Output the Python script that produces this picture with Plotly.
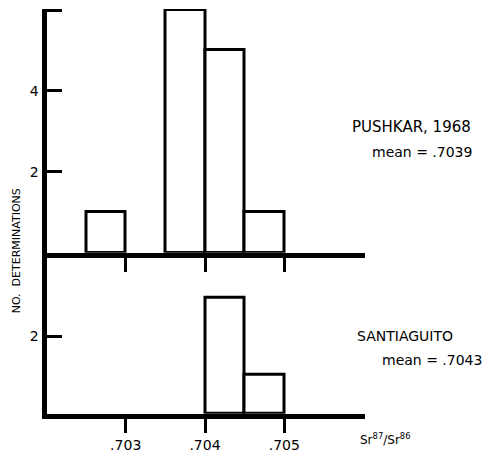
import plotly.graph_objects as go

W, H = 487, 453

# Data (Sr87/Sr86 histogram bins, bin width 0.0005)
bin_width = 0.0005
pushkar_bin_left = [0.7025, 0.7035, 0.7040, 0.7045]
pushkar_counts = [1, 6, 5, 1]
santi_bin_left = [0.7040, 0.7045]
santi_counts = [3, 1]
x_tick_vals = [0.703, 0.704, 0.705]
x_tick_text = [".703", ".704", ".705"]
top_y_ticks = [2, 4, 5.98]
top_y_text = ["2", "4", ""]
bot_y_ticks = [2]
bot_y_text = ["2"]

def px(x):
    return x / W

def py(y):
    return 1 - y / H

FONT = "DejaVu Sans"

fig = go.Figure()

bar_style = dict(marker=dict(color="white", line=dict(color="black", width=3)),
                 width=bin_width, showlegend=False, hoverinfo="skip")

fig.add_trace(go.Bar(x=[b + bin_width / 2 for b in pushkar_bin_left], y=pushkar_counts,
                     xaxis="x2", yaxis="y2", **bar_style))
fig.add_trace(go.Bar(x=[b + bin_width / 2 for b in santi_bin_left], y=santi_counts,
                     xaxis="x", yaxis="y", **bar_style))

# pixel layout
LW = 5
x_left_px, x_right_px = 46.5, 365
ppu_x = 79.3  # pixels per 0.001
x_703 = 125.7
x0 = 0.703 - (x_703 - x_left_px) / ppu_x * 0.001
x1 = 0.703 + (x_right_px - x_703) / ppu_x * 0.001

top_base, top_top = 254.5, 9
bot_base, bot_top = 416.5, 259.5

common_x = dict(range=[x0, x1], domain=[px(x_left_px), px(x_right_px)],
                showgrid=False, zeroline=False, showline=True, linecolor="black",
                linewidth=LW, ticks="outside", ticklen=14, tickwidth=3, tickcolor="black",
                tickvals=x_tick_vals, fixedrange=True)

common_y = dict(showgrid=False, zeroline=False, showline=True, linecolor="black",
                linewidth=LW, ticks="inside", ticklen=15, tickwidth=3, tickcolor="black",
                tickfont=dict(family=FONT, size=14, color="black"), fixedrange=True)

fig.update_layout(
    width=W, height=H,
    margin=dict(l=0, r=0, t=0, b=0),
    paper_bgcolor="white", plot_bgcolor="white",
    bargap=0,
    xaxis=dict(**common_x, anchor="y", ticktext=x_tick_text,
               tickfont=dict(family=FONT, size=14, color="black")),
    xaxis2=dict(**common_x, anchor="y2", matches="x", showticklabels=False),
    yaxis=dict(**common_y, domain=[py(bot_base), py(bot_top)],
               range=[0, (bot_base - bot_top) / 39.0],
               tickvals=bot_y_ticks, ticktext=bot_y_text, anchor="x"),
    yaxis2=dict(**common_y, domain=[py(top_base), py(top_top)],
                range=[0, 6.02],
                tickvals=top_y_ticks, ticktext=top_y_text, anchor="x2"),
)

ann = [
    dict(text="NO.  DETERMINATIONS", x=px(16), y=py(253), textangle=-90,
         font=dict(size=11, family=FONT)),
    dict(text="PUSHKAR, 1968", x=px(473), y=py(128), xanchor="right",
         font=dict(size=15, family=FONT)),
    dict(text="mean = .7039", x=px(474), y=py(153), xanchor="right",
         font=dict(size=14, family=FONT)),
    dict(text="SANTIAGUITO", x=px(355), y=py(338), xanchor="left",
         font=dict(size=14, family=FONT)),
    dict(text="mean = .7043", x=px(484), y=py(362), xanchor="right",
         font=dict(size=14, family=FONT)),
    dict(text="Sr<sup>87</sup>/Sr<sup>86</sup>", x=px(358), y=py(442), xanchor="left",
         font=dict(size=12, family=FONT)),
]
for a in ann:
    a.update(xref="paper", yref="paper", showarrow=False)
    a.setdefault("xanchor", "center")
    a["yanchor"] = "middle"
    a["font"]["color"] = "black"
fig.update_layout(annotations=ann)

fig.write_html("out.html")
